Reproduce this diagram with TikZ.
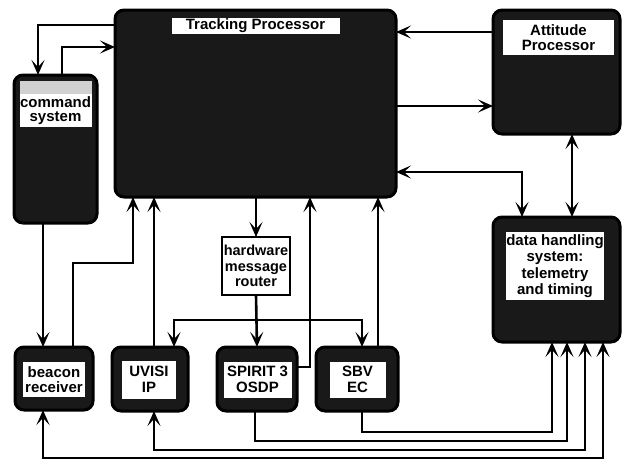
\documentclass[tikz,border=0pt]{standalone}
\usepackage{fontspec}
\setmainfont{Liberation Sans}
\usetikzlibrary{arrows.meta}

\begin{document}
\begin{tikzpicture}[x=1pt,y=-1pt,
  every node/.style={inner sep=0pt, outer sep=0pt},
  unit/.style={draw=black, line width=3pt, rounded corners=9pt, fill=black!90, anchor=north west},
  router/.style={draw=black, line width=1.6pt, fill=white, anchor=north west, align=center,
    font=\bfseries\fontsize{14.5}{15.5}\selectfont},
  band/.style={fill=white, align=center, font=\bfseries\fontsize{15}{15.5}\selectfont},
  tip/.tip={Stealth[length=15pt,width=13pt,inset=7pt]},
  flow/.style={line width=2.6pt, -tip},
  both/.style={line width=2.6pt, tip-tip},
]
\useasboundingbox (0,0) rectangle (622,461);

% ---- processing units ----
\node[unit, minimum width=281pt, minimum height=187pt] (tp) at (115,10) {};
\node[band, minimum width=168pt, minimum height=16pt] (tpl) at ([yshift=-15.5pt]tp.north) {Tracking Processor};

\node[unit, minimum width=83pt, minimum height=148pt] (cmd) at (14,75) {};
\fill[black!18] (20,81) rectangle (92,94);
\node[band, minimum width=72pt, minimum height=33pt, font=\bfseries\fontsize{15}{13.5}\selectfont]
  (cmdl) at ([yshift=-35.5pt]cmd.north) {command\\system};

\node[unit, minimum width=127pt, minimum height=124pt] (att) at (493,10) {};
\node[band, minimum width=111pt, minimum height=35pt] (attl) at ([xshift=2pt,yshift=-27.5pt]att.north) {Attitude\\Processor};

\node[unit, minimum width=127pt, minimum height=125pt] (dhs) at (493,217) {};
\node[band, minimum width=94pt, minimum height=68pt, font=\bfseries\fontsize{15}{16.5}\selectfont]
  (dhsl) at ([xshift=-1.5pt,yshift=-49pt]dhs.north) {data handling\\system:\\telemetry\\and timing};

\node[router, minimum width=68pt, minimum height=58pt] (rtr) at (222,237) {hardware\\message\\router};

% ---- instruments and receiver ----
\node[unit, minimum width=78pt, minimum height=63pt] (bcn) at (15,347) {};
\node[band, minimum width=62pt, minimum height=35pt] (bcnl) at ([yshift=-1pt]bcn.center) {beacon\\receiver};

\node[unit, minimum width=76pt, minimum height=64pt] (uvi) at (112,347) {};
\node[band, minimum width=54pt, minimum height=38pt] (uvil) at ([xshift=-1pt,yshift=-0.5pt]uvi.center) {UVISI\\IP};

\node[unit, minimum width=80pt, minimum height=64pt] (spr) at (217,347) {};
\node[band, minimum width=68pt, minimum height=36pt] (sprl) at ([xshift=0.5pt,yshift=-0.5pt]spr.center) {SPIRIT 3\\OSDP};

\node[unit, minimum width=82pt, minimum height=64pt] (sbv) at (316,347) {};
\node[band, minimum width=56pt, minimum height=36pt] (sbvl) at ([xshift=0.5pt,yshift=-0.5pt]sbv.center) {SBV\\EC};

% ---- command loop ----
\draw[flow] ([yshift=-15pt]tp.north west) -| ([xshift=-17.5pt]cmd.north);
\draw[flow] ([xshift=6.5pt]cmd.north) |- ([yshift=-37pt]tp.north west);
\draw[flow] ([xshift=-12.5pt]cmd.south) coordinate (c1) -- (c1 |- bcn.north);
\draw[flow] ([xshift=19pt]bcn.north) -- ++(0pt,84pt) -| ([xshift=-122.5pt]tp.south);

% ---- instrument links to the tracking processor ----
\draw[flow] ([xshift=4pt]uvi.north) coordinate (u1) -- (u1 |- tp.south);
\draw[flow] (rtr.north |- tp.south) -- (rtr.north);
\draw[flow] (rtr.south) -- (spr.north);
\path (rtr.south) ++(0pt,-25pt) coordinate (split);
\draw[flow] (split) -| ([xshift=24pt]uvi.north);
\draw[flow] (split) -| ([xshift=5pt]sbv.north);
\draw[flow] ([yshift=12pt]spr.east) -| ([xshift=54.5pt]tp.south);
\draw[flow] ([xshift=21pt]sbv.north) coordinate (s1) -- (s1 |- tp.south);

% ---- attitude and data handling ----
\draw[flow] ([yshift=-22pt]att.north west) coordinate (a1) -- (a1 -| tp.east);
\draw[flow] ([yshift=-96pt]tp.north east) coordinate (a2) -- (a2 -| att.west);
\draw[both] ([yshift=-162pt]tp.north east) -| ([xshift=-34.5pt]dhs.north);
\draw[both] ([xshift=15.5pt]att.south) -- ([xshift=15.5pt]dhs.north);

% ---- telemetry bus ----
\draw[flow] ([xshift=5pt]sbv.south) -- ++(0pt,-21pt) -| ([xshift=-4.5pt]dhs.south);
\draw[flow] ([xshift=-2pt]spr.south) -- ++(0pt,-30pt) -| ([xshift=10.5pt]dhs.south);
\draw[both] ([xshift=4pt]uvi.south) -- ++(0pt,-39pt) -| ([xshift=28.5pt]dhs.south);
\draw[both] ([xshift=-11pt]bcn.south) -- ++(0pt,-48pt) -| ([xshift=46.5pt]dhs.south);
\end{tikzpicture}
\end{document}
